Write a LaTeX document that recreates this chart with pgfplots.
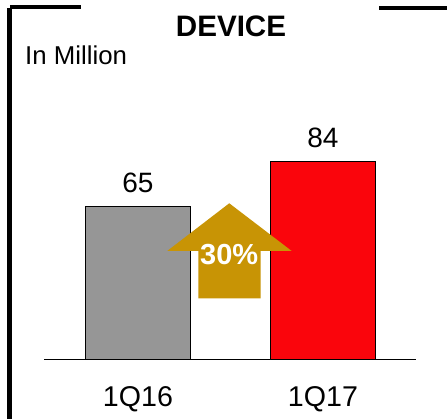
\documentclass[border=0pt]{standalone}
\usepackage{fontspec}
\setmainfont{Liberation Sans}
\usepackage{pgfplots}
\pgfplotsset{compat=1.18}
\definecolor{bargray}{RGB}{150,150,150}
\definecolor{barred}{RGB}{250,5,12}
\definecolor{gold}{RGB}{200,148,5}
\begin{document}
\begin{tikzpicture}[x=1pt,y=1pt]
\useasboundingbox (0,0) rectangle (447,419);
% frame fragments
\fill[black] (7,0) rectangle (12,411);
\fill[black] (10,410) rectangle (81,414);
\fill[black] (379,409) rectangle (447,413);
% titles
\node[anchor=base,inner sep=0pt,font=\fontsize{29.6}{34}\selectfont\bfseries] at (231,382) {DEVICE};
\node[anchor=base west,inner sep=0pt,font=\fontsize{25.8}{30}\selectfont] at (25,354) {In Million};
\begin{axis}[
  at={(44pt,59pt)}, anchor=south west,
  scale only axis, width=372pt, height=236.5pt,
  xmin=-0.508, xmax=1.503, ymin=0, ymax=100,
  axis x line*=bottom, axis y line=none,
  axis line style={line width=1pt, black},
  xtick={0,1}, xticklabels={1Q16,1Q17},
  major tick length=0pt,
  xticklabel style={anchor=base, yshift=-47pt, inner sep=0pt, font=\fontsize{28.6}{33}\selectfont},
  ybar, bar shift=0pt, bar width=105pt,
  /pgf/number format/assume math mode=true,
  nodes near coords,
  nodes near coords style={anchor=base, yshift=14pt, inner sep=0pt, font=\fontsize{28}{33}\selectfont, text=black},
  clip=false,
]
\addplot[fill=bargray, draw=black, line width=1pt] coordinates {(0,65)};
\addplot[fill=barred, draw=black, line width=1pt] coordinates {(1,84)};
\fill[gold] (axis cs:0.4935,66.26) -- (axis cs:0.831,46.09) -- (axis cs:0.663,46.09) -- (axis cs:0.663,26.09) -- (axis cs:0.326,26.09) -- (axis cs:0.326,46.09) -- (axis cs:0.158,46.09) -- cycle;
\node[anchor=base, inner sep=0pt, text=white, font=\fontsize{29}{34}\selectfont\bfseries] at (axis cs:0.4935,40.17) {30\%};
\end{axis}
\end{tikzpicture}
\end{document}
